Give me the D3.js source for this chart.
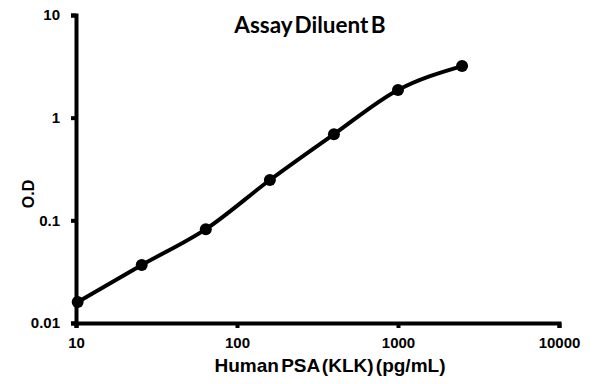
<!DOCTYPE html>
<meta charset="utf-8">
<style>
body { margin: 0; background: #fff; }
text { font-family: "Liberation Sans", Arial, Helvetica, sans-serif; font-weight: bold; fill: #000; }
</style>
<svg width="595" height="384"></svg>
<script src="https://d3js.org/d3.v7.min.js"></script>
<script>

var conc = [10.24, 25.6, 64, 160, 400, 1000, 2500];
var od = [0.016, 0.0367, 0.082, 0.247, 0.69, 1.86, 3.18];
var xTicks = [10, 100, 1000, 10000];
var yTicks = [0.01, 0.1, 1, 10];

var svg = d3.select("svg");

var x = d3.scaleLog().domain([10, 10000]).range([76, 559]);
var y = d3.scaleLog().domain([0.01, 10]).range([323, 15]);

var pts = conc.map(function(c, i) { return [c, od[i]]; });

// axes
var xAxis = svg.append("g")
    .attr("transform", "translate(0,323)")
    .call(d3.axisBottom(x).tickValues(xTicks).tickFormat(d3.format("d")).tickSizeOuter(0).tickSize(5).tickPadding(9));
var yAxis = svg.append("g")
    .attr("transform", "translate(76,0)")
    .call(d3.axisLeft(y).tickValues(yTicks).tickFormat(function(d) { return String(d); }).tickSizeOuter(0).tickSize(5).tickPadding(11));

[xAxis, yAxis].forEach(function(a) {
  a.attr("font-family", null).attr("font-size", null);
  a.select(".domain").attr("stroke", "#000").attr("stroke-width", 4);
  a.selectAll(".tick line").attr("stroke", "#000").attr("stroke-width", 4);
  a.selectAll(".tick text").style("font-size", "15px");
});

// curve
var line = d3.line()
    .x(function(d) { return x(d[0]); })
    .y(function(d) { return y(d[1]); })
    .curve(d3.curveMonotoneX);

svg.append("path")
    .datum(pts)
    .attr("d", line)
    .attr("fill", "none")
    .attr("stroke", "#000")
    .attr("stroke-width", 4);

svg.append("g").selectAll("circle")
    .data(pts)
  .enter().append("circle")
    .attr("cx", function(d) { return x(d[0]); })
    .attr("cy", function(d) { return y(d[1]); })
    .attr("r", 6)
    .attr("fill", "#000");

// labels
svg.append("text")
    .attr("x", 310).attr("y", 33)
    .attr("text-anchor", "middle")
    .style("font-family", "Lato, sans-serif")
    .style("font-size", "22.5px")
    .style("word-spacing", "-3px")
    .text("Assay Diluent B");

svg.append("text")
    .attr("x", 330).attr("y", 372)
    .attr("text-anchor", "middle")
    .style("font-size", "19px")
    .style("word-spacing", "-3px")
    .text("Human PSA (KLK) (pg/mL)");

svg.append("text")
    .attr("transform", "translate(34,194) rotate(-90)")
    .attr("text-anchor", "middle")
    .style("font-size", "16px")
    .text("O.D");

</script>
